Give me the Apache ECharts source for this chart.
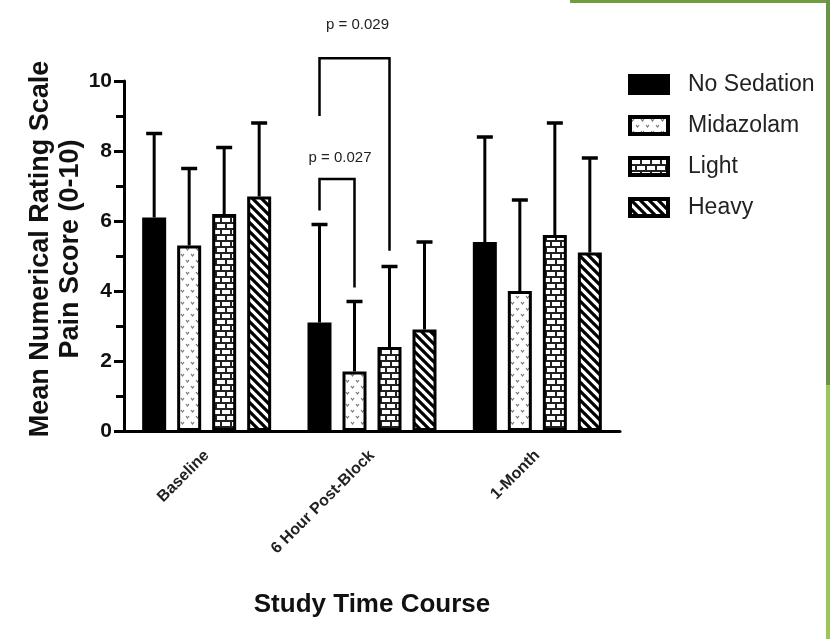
<!DOCTYPE html>
<html>
<head>
<meta charset="utf-8">
<title>Pain score by sedation group</title>
<script src="https://cdn.jsdelivr.net/npm/echarts@6/dist/echarts.min.js"></script>
<style>
  html, body { margin: 0; padding: 0; background: #fff; }
  #chart { width: 830px; height: 639px; }
</style>
</head>
<body>
<div id="chart"></div>
<script>
// data
var categories = ['Baseline', '6 Hour Post-Block', '1-Month'];
var groups = ['No Sedation', 'Midazolam', 'Light', 'Heavy'];
var noSedation = [6.1, 3.1, 5.4];
var midazolam = [5.3, 1.7, 4.0];
var light = [6.2, 2.4, 5.6];
var heavy = [6.7, 2.9, 5.1];
var noSedationSd = [2.4, 2.8, 3.0];
var midazolamSd = [2.2, 2.0, 2.6];
var lightSd = [1.9, 2.3, 3.2];
var heavySd = [2.1, 2.5, 2.7];
var yTicks = [0, 2, 4, 6, 8, 10];

// significance brackets (category, from bar, to bar, top, leg ends, label height)
var pLabels = ['p = 0.027', 'p = 0.029'];
var pCategory = [1, 1];
var pFrom = [0, 0];
var pTo = [1, 2];
var pTop = [7.2, 10.65];
var pLeftEnd = [6.3, 9.0];
var pRightEnd = [4.1, 5.15];
var pLabelY = [7.8, 11.6];

var means = [noSedation, midazolam, light, heavy];
var sds = [noSedationSd, midazolamSd, lightSd, heavySd];

var BAR_W = 24;
var BAR_GAP = 11;
var FONT = '"Liberation Sans", Arial, Helvetica, sans-serif';

function barOffset(s) {
    return (s - (groups.length - 1) / 2) * (BAR_W + BAR_GAP);
}

function makePattern(w, h, draw) {
    var c = document.createElement('canvas');
    c.width = w;
    c.height = h;
    var ctx = c.getContext('2d');
    ctx.fillStyle = '#fff';
    ctx.fillRect(0, 0, w, h);
    draw(ctx);
    return { image: c, repeat: 'repeat' };
}

// little grey "v" marks
var dotPattern = makePattern(10, 12, function (ctx) {
    ctx.strokeStyle = '#777';
    ctx.lineWidth = 1.2;
    ctx.beginPath();
    ctx.moveTo(1, 2); ctx.lineTo(2.5, 4); ctx.lineTo(4, 2);
    ctx.moveTo(6, 8); ctx.lineTo(7.5, 10); ctx.lineTo(9, 8);
    ctx.stroke();
});
// brick wall
var brickPattern = makePattern(10, 12, function (ctx) {
    ctx.strokeStyle = '#222';
    ctx.lineWidth = 2;
    ctx.beginPath();
    ctx.moveTo(0, 1); ctx.lineTo(10, 1);
    ctx.moveTo(0, 7); ctx.lineTo(10, 7);
    ctx.moveTo(1, 1); ctx.lineTo(1, 7);
    ctx.moveTo(6, 7); ctx.lineTo(6, 12);
    ctx.stroke();
});
// "\" stripes
var stripePattern = makePattern(9, 9, function (ctx) {
    ctx.strokeStyle = '#000';
    ctx.lineWidth = 3.2;
    ctx.beginPath();
    for (var x = -9; x <= 9; x += 9) {
        ctx.moveTo(x - 1, -1);
        ctx.lineTo(x + 10, 10);
    }
    ctx.stroke();
});
var fills = ['#000', dotPattern, brickPattern, stripePattern];

var chart = echarts.init(document.getElementById('chart'));

var barSeries = groups.map(function (name, s) {
    return {
        name: name,
        type: 'bar',
        data: means[s],
        barWidth: BAR_W,
        barGap: (BAR_GAP / BAR_W * 100) + '%',
        itemStyle: { color: fills[s], borderColor: '#000', borderWidth: 3 },
        z: 2
    };
});

var errData = [];
groups.forEach(function (g, s) {
    categories.forEach(function (c, i) {
        errData.push([i, means[s][i], sds[s][i], s]);
    });
});

var bracketData = pLabels.map(function (t, k) {
    return [pCategory[k], pTop[k], pFrom[k], pTo[k], pLeftEnd[k], pRightEnd[k], pLabelY[k]];
});

var option = {
    backgroundColor: '#fff',
    animation: false,
    textStyle: { fontFamily: FONT },
    grid: { left: 124, right: 210, top: 81, bottom: 208 },
    legend: {
        data: groups,
        orient: 'vertical',
        left: 623,
        top: 68,
        icon: 'rect',
        itemWidth: 38,
        itemHeight: 17,
        itemGap: 18,
        itemStyle: { borderWidth: 4, borderColor: '#000' },
        textStyle: { fontSize: 23, color: '#222', fontFamily: FONT, padding: [0, 0, 0, 15] }
    },
    xAxis: {
        type: 'category',
        data: categories,
        name: 'Study Time Course',
        nameLocation: 'middle',
        nameGap: 161,
        nameTextStyle: { fontSize: 26, fontWeight: 'bold', color: '#111' },
        axisLine: { lineStyle: { color: '#000', width: 3 } },
        axisTick: { alignWithLabel: true, length: 9, lineStyle: { color: '#000', width: 3 } },
        axisLabel: { rotate: 45, fontSize: 16, fontWeight: 'bold', color: '#222', margin: 22, interval: 0 }
    },
    yAxis: {
        type: 'value',
        min: yTicks[0],
        max: yTicks[yTicks.length - 1],
        interval: yTicks[1] - yTicks[0],
        name: 'Mean Numerical Rating Scale\nPain Score (0-10)',
        nameLocation: 'middle',
        nameGap: 38,
        nameMoveOverlap: false,
        nameTextStyle: { fontSize: 27, fontWeight: 'bold', color: '#111', lineHeight: 30, padding: [0, 0, 0, 14] },
        axisLine: { show: true, lineStyle: { color: '#000', width: 3 } },
        axisTick: { show: true, length: 10, lineStyle: { color: '#000', width: 3 } },
        minorTick: { show: true, splitNumber: 2, length: 8, lineStyle: { color: '#000', width: 3 } },
        splitLine: { show: false },
        axisLabel: { fontSize: 21, fontWeight: 'bold', color: '#111', margin: 12 }
    },
    series: barSeries.concat([
        {
            name: 'errors',
            type: 'custom',
            data: errData,
            encode: { x: 0, y: 1 },
            z: 3,
            renderItem: function (params, api) {
                var c = api.value(0), m = api.value(1), sd = api.value(2), s = api.value(3);
                var base = api.coord([c, m]);
                var top = api.coord([c, m + sd]);
                var x = base[0] + barOffset(s);
                return {
                    type: 'group',
                    children: [
                        { type: 'line', shape: { x1: x, y1: base[1], x2: x, y2: top[1] }, style: { stroke: '#000', lineWidth: 3 } },
                        { type: 'line', shape: { x1: x - 8, y1: top[1], x2: x + 8, y2: top[1] }, style: { stroke: '#000', lineWidth: 3.5 } }
                    ]
                };
            }
        },
        {
            name: 'brackets',
            type: 'custom',
            data: bracketData,
            encode: { x: 0, y: 1 },
            clip: false,
            z: 4,
            renderItem: function (params, api) {
                var c = api.value(0);
                var topPt = api.coord([c, api.value(1)]);
                var x1 = topPt[0] + barOffset(api.value(2));
                var x2 = topPt[0] + barOffset(api.value(3));
                var yL = api.coord([c, api.value(4)])[1];
                var yR = api.coord([c, api.value(5)])[1];
                var yT = api.coord([c, api.value(6)])[1];
                return {
                    type: 'group',
                    children: [
                        {
                            type: 'polyline',
                            shape: { points: [[x1, yL], [x1, topPt[1]], [x2, topPt[1]], [x2, yR]] },
                            style: { stroke: '#000', lineWidth: 2.5, fill: null }
                        },
                        {
                            type: 'text',
                            x: (x1 + x2) / 2 + 3,
                            y: yT,
                            style: {
                                text: pLabels[params.dataIndex],
                                fontSize: 15,
                                fontFamily: FONT,
                                fill: '#222',
                                align: 'center',
                                verticalAlign: 'middle'
                            }
                        }
                    ]
                };
            }
        }
    ]),
    graphic: [
        { type: 'rect', left: 570, top: 0, shape: { width: 260, height: 3 }, style: { fill: '#6f9d3f' } },
        { type: 'rect', left: 826, top: 0, shape: { width: 4, height: 385 }, style: { fill: '#6a9545' } },
        { type: 'rect', left: 826, top: 385, shape: { width: 4, height: 254 }, style: { fill: '#9cc65a' } }
    ]
};

chart.setOption(option);
</script>
</body>
</html>
